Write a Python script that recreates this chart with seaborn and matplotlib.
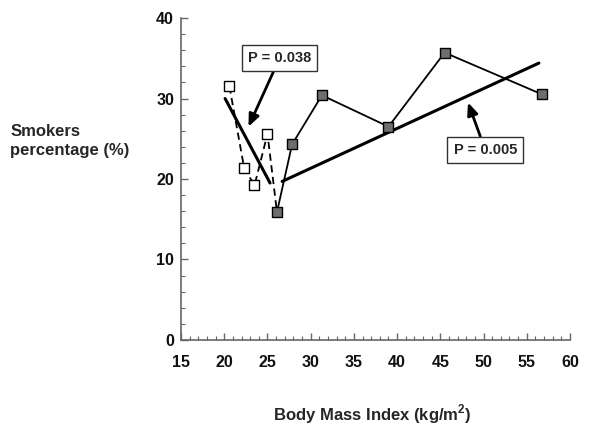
import matplotlib
matplotlib.use("Agg")
import matplotlib.pyplot as plt
import pandas as pd
import seaborn as sns

# lower-BMI group (open squares, dashed)
bmi_low = [20.6, 22.3, 23.5, 25.0]
smk_low = [31.5, 21.4, 19.2, 25.6]

# higher-BMI group (filled squares, solid)
bmi_high = [26.1, 27.85, 31.3, 39.0, 45.5, 56.8]
smk_high = [15.9, 24.3, 30.4, 26.5, 35.7, 30.5]

# fitted trend lines (end points)
fit1_x = [20.1, 25.3]
fit1_y = [30.0, 19.5]
fit2_x = [26.7, 56.4]
fit2_y = [19.7, 34.4]

p_labels = ["P = 0.038", "P = 0.005"]

sns.set_style("ticks")
plt.rcParams["font.family"] = ["Liberation Sans", "DejaVu Sans"]

fig = plt.figure(figsize=(6, 4.29), dpi=100)
ax = fig.add_axes([0.3017, 0.2075, 0.6483, 0.7505])

low_df = pd.DataFrame({"bmi": bmi_low + [bmi_high[0]], "smk": smk_low + [smk_high[0]]})
high_df = pd.DataFrame({"bmi": bmi_high, "smk": smk_high})

sns.lineplot(data=low_df, x="bmi", y="smk", sort=False, color="black",
             linestyle=(0, (4, 2.5)), linewidth=1.3, ax=ax)
sns.lineplot(data=high_df, x="bmi", y="smk", sort=False, color="black",
             linewidth=1.3, ax=ax)
sns.lineplot(x=fit1_x, y=fit1_y, color="black", linewidth=2.2, ax=ax)
sns.lineplot(x=fit2_x, y=fit2_y, color="black", linewidth=2.2, ax=ax)

sns.scatterplot(x=bmi_low, y=smk_low, marker="s", s=60, color="white",
                edgecolor="black", linewidth=1.0, zorder=5, ax=ax)
sns.scatterplot(x=bmi_high, y=smk_high, marker="s", s=60, color="#6e6e6e",
                edgecolor="black", linewidth=1.0, zorder=5, ax=ax)

box = dict(boxstyle="square,pad=0.42", fc="white", ec="#333333", lw=1.0)
arrow = dict(arrowstyle="-|>,head_length=0.7,head_width=0.3", color="black",
             lw=2.0, shrinkA=0, shrinkB=0)
ax.annotate(p_labels[0], xy=(22.8, 26.5), xytext=(26.4, 35.0),
            ha="center", va="center", fontsize=10.5, fontweight="bold",
            bbox=box, arrowprops=arrow, zorder=6)
ax.annotate(p_labels[1], xy=(48.2, 29.5), xytext=(50.2, 23.6),
            ha="center", va="center", fontsize=10.5, fontweight="bold",
            bbox=box, arrowprops=arrow, zorder=6)

ax.set_xlim(15, 60)
ax.set_ylim(0, 40)
ax.set_xticks(range(15, 61, 5))
ax.set_yticks(range(0, 41, 10))
ax.set_xticks(range(15, 61, 1), minor=True)
ax.set_yticks(range(0, 41, 2), minor=True)
ax.tick_params(which="both", direction="in", color="#666666")
ax.tick_params(which="major", length=5, width=1.0, labelsize=11.5)
ax.tick_params(axis="x", which="major", pad=11)
ax.tick_params(axis="y", which="major", pad=5)
ax.tick_params(which="minor", length=3, width=0.8)
for lbl in ax.get_xticklabels() + ax.get_yticklabels():
    lbl.set_fontweight("bold")
    lbl.set_color("#111111")

sns.despine(ax=ax)
for side in ["left", "bottom"]:
    ax.spines[side].set_color("#666666")
    ax.spines[side].set_linewidth(1.2)

ax.set_xlabel("")
ax.set_ylabel("")
fig.text(0.621, 0.035, "Body Mass Index (kg/m$^{\\mathregular{2}}$)", ha="center",
         va="center", fontsize=12, fontweight="bold")
fig.text(0.017, 0.671, "Smokers\npercentage (%)", ha="left", va="center",
         fontsize=12, fontweight="bold", linespacing=1.3)

fig.savefig("out.png", dpi=100)
